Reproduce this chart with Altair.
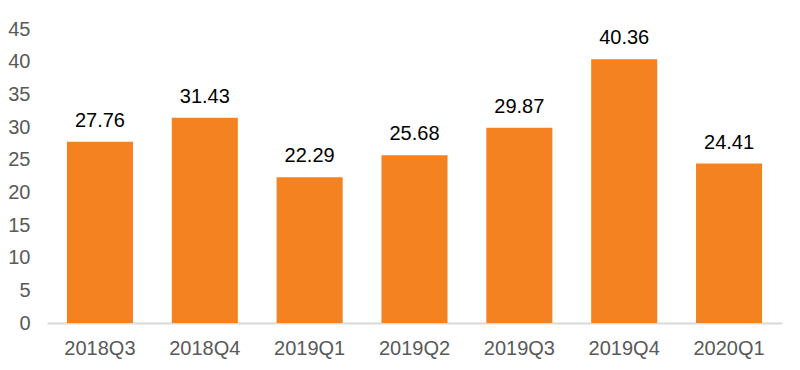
import altair as alt
import pandas as pd

quarters = ["2018Q3", "2018Q4", "2019Q1", "2019Q2", "2019Q3", "2019Q4", "2020Q1"]
values = [27.76, 31.43, 22.29, 25.68, 29.87, 40.36, 24.41]

df = pd.DataFrame({"q": quarters, "v": values})
df["label"] = [f"{v:.2f}" for v in values]

FONT = "Liberation Sans"

base = alt.Chart(df).encode(
    x=alt.X("q:N", sort=quarters, title=None,
            scale=alt.Scale(paddingInner=0.37, paddingOuter=0.19),
            axis=alt.Axis(labelAngle=0, ticks=False, domainColor="#d9d9d9", domainWidth=2,
                          labelFontSize=20, labelColor="#595959", labelFont=FONT,
                          labelPadding=15)),
    y=alt.Y("v:Q", title=None,
            scale=alt.Scale(domain=[0, 45]),
            axis=alt.Axis(values=list(range(0, 46, 5)), domain=False, ticks=False, grid=False,
                          labelFontSize=20, labelColor="#595959", labelFont=FONT,
                          labelPadding=17)),
)

bars = base.mark_bar(color="#F58220")
text = base.mark_text(dy=-11, baseline="bottom", fontSize=20, font=FONT, color="#000000").encode(
    text="label:N")

chart = (bars + text).properties(
    width=735, height=294,
    autosize=alt.AutoSizeParams(type="none"),
    padding={"left": 39, "top": 21, "right": 10, "bottom": 40},
).configure_view(stroke=None)

chart.save("out.html", embed_options={"renderer": "svg", "actions": False})
